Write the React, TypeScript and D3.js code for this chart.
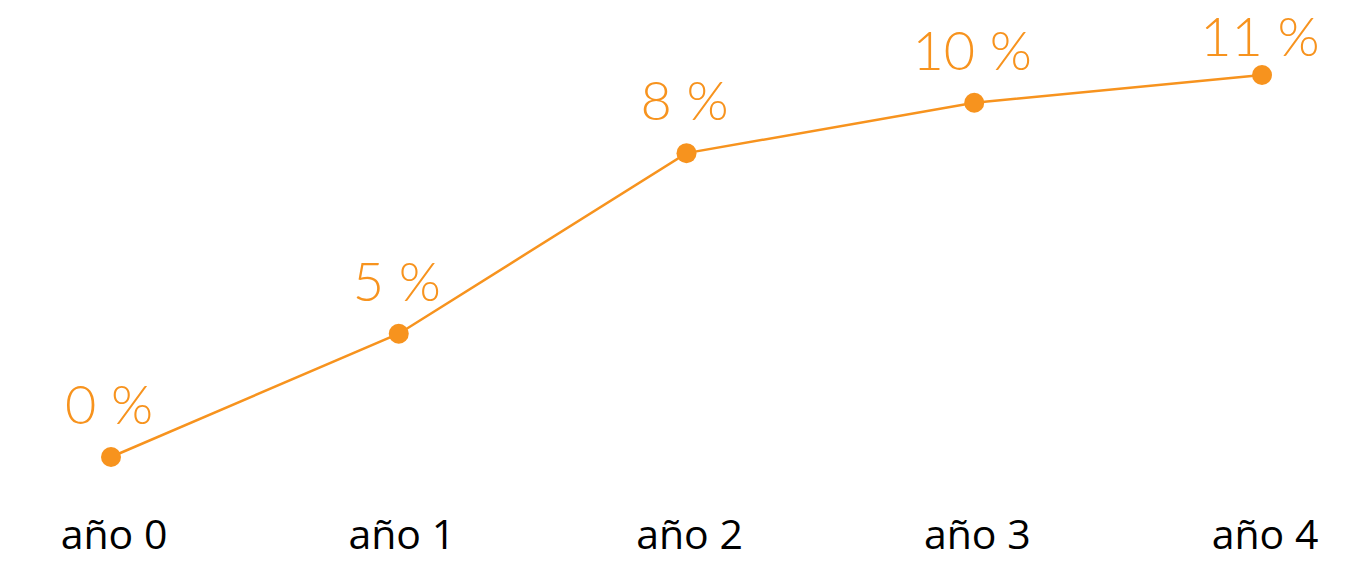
import React from "react";
import * as d3 from "d3";

const categories = ["año 0", "año 1", "año 2", "año 3", "año 4"];
const values = [0, 3.55, 8.75, 10.2, 11];
const valueLabels = ["0 %", "5 %", "8 %", "10 %", "11 %"];

const W = 1363;
const H = 561;
const COLOR = "#F7931E";

export default function App() {
  const x = d3.scalePoint<string>().domain(categories).range([111, 1262]);
  const y = d3.scaleLinear().domain([0, 11]).range([457, 75]);
  const data = categories.map((c, i) => ({ c, v: values[i], l: valueLabels[i] }));
  const line = d3
    .line<{ c: string; v: number }>()
    .x((d) => x(d.c) as number)
    .y((d) => y(d.v));
  return (
    <svg width={W} height={H} style={{ position: "absolute", left: 0, top: 0, display: "block" }}>
      <path d={line(data) || ""} fill="none" stroke={COLOR} strokeWidth={2.5} />
      {data.map((d, i) => (
        <g key={i}>
          <circle cx={x(d.c)} cy={y(d.v)} r={10} fill={COLOR} />
          <text
            x={(x(d.c) as number) - 2}
            y={Math.max(y(d.v) - 33, 56)}
            textAnchor="middle"
            fill={COLOR}
            fontFamily="Lato, 'Open Sans', sans-serif"
            fontWeight={300}
            fontSize={54}
          >
            {d.l}
          </text>
          <text
            x={(x(d.c) as number) + 3}
            y={549}
            textAnchor="middle"
            fill="#000"
            fontFamily="'Open Sans', 'Noto Sans', sans-serif"
            fontSize={41}
          >
            {d.c}
          </text>
        </g>
      ))}
    </svg>
  );
}
